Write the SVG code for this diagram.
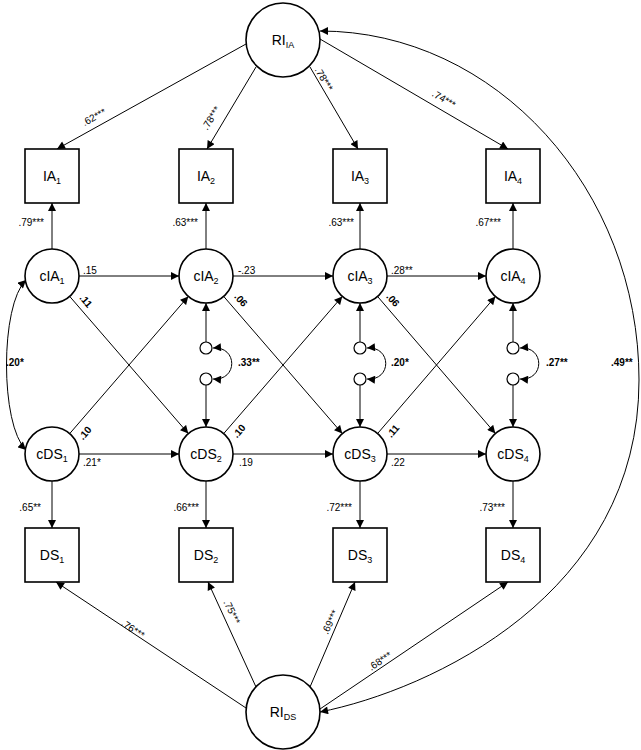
<svg xmlns="http://www.w3.org/2000/svg" width="641" height="750" viewBox="0 0 641 750">
<defs>
<marker id="ah" viewBox="0 0 10 10" refX="10" refY="5" markerWidth="9" markerHeight="8" markerUnits="userSpaceOnUse" orient="auto-start-reverse"><path d="M0,0 L10,5 L0,10 z" fill="#000"/></marker>
<style>
.node{fill:#fff;stroke:#000;stroke-width:1.6}
.small{fill:#fff;stroke:#000;stroke-width:1.2}
.lbl{font-family:"Liberation Sans",Arial,sans-serif;font-size:14px;fill:#000;text-anchor:middle}
.sub{font-size:9px}
.c{fill:none;stroke:#000;stroke-width:1}
.a{marker-end:url(#ah)}
.b{marker-start:url(#ah);marker-end:url(#ah)}
.n{font-family:"Liberation Sans",Arial,sans-serif;font-size:10px;fill:#000}
.bd{font-weight:bold}
</style>
</defs>
<rect width="641" height="750" fill="#fff"/>
<g id="connectors">
<path class="c a" d="M246 44 L57 149"/>
<path class="c a" d="M256 67 L207 149"/>
<path class="c a" d="M310 67 L358 149"/>
<path class="c a" d="M320 39 L508 149"/>
<path class="c a" d="M246 708 L56 582"/>
<path class="c a" d="M256 687 L208 582"/>
<path class="c a" d="M310 687 L355 582"/>
<path class="c a" d="M320 709 L508 582"/>
<path class="c b" d="M320 712 C430 690 639 595 639 380 C639 190 496 31 320 31"/>
<path class="c a" d="M52 249 L52 203"/>
<path class="c a" d="M206 249 L206 203"/>
<path class="c a" d="M360 249 L360 203"/>
<path class="c a" d="M513 249 L513 203"/>
<path class="c a" d="M52 481 L52 528"/>
<path class="c a" d="M206 481 L206 528"/>
<path class="c a" d="M360 481 L360 528"/>
<path class="c a" d="M513 481 L513 528"/>
<path class="c a" d="M79 276 L179 276"/>
<path class="c a" d="M233 276 L333 276"/>
<path class="c a" d="M387 276 L486 276"/>
<path class="c a" d="M79 454 L179 454"/>
<path class="c a" d="M233 454 L333 454"/>
<path class="c a" d="M387 454 L486 454"/>
<path class="c a" d="M69.7 296.4 L188.3 433.6"/>
<path class="c a" d="M69.7 433.6 L188.3 296.4"/>
<path class="c a" d="M223.7 296.4 L342.3 433.6"/>
<path class="c a" d="M223.7 433.6 L342.3 296.4"/>
<path class="c a" d="M377.6 296.5 L495.4 433.5"/>
<path class="c a" d="M377.6 433.5 L495.4 296.5"/>
<path class="c a" d="M206 342 L206 303"/>
<path class="c a" d="M360 342 L360 303"/>
<path class="c a" d="M513 342 L513 303"/>
<path class="c a" d="M206 385 L206 427"/>
<path class="c a" d="M360 385 L360 427"/>
<path class="c a" d="M513 385 L513 427"/>
<path class="c b" d="M213 348 C238 346 238 381 213 379"/>
<path class="c b" d="M367 348 C392 346 392 381 367 379"/>
<path class="c b" d="M520 348 C545 346 545 381 520 379"/>
<path class="c b" d="M26 280 C0 305 0 425 26 450"/>
</g>
<g id="RI_IA"><circle class="node" cx="283" cy="40" r="37"/><text class="lbl" x="283" y="45">RI<tspan class="sub" dy="3">IA</tspan></text></g>
<g id="RI_DS"><circle class="node" cx="283" cy="712" r="37"/><text class="lbl" x="283" y="717">RI<tspan class="sub" dy="3">DS</tspan></text></g>
<g id="IA1"><rect class="node" x="25" y="149" width="54" height="54"/><text class="lbl" x="52" y="181">IA<tspan class="sub" dy="3">1</tspan></text></g>
<g id="IA2"><rect class="node" x="179" y="149" width="54" height="54"/><text class="lbl" x="206" y="181">IA<tspan class="sub" dy="3">2</tspan></text></g>
<g id="IA3"><rect class="node" x="333" y="149" width="54" height="54"/><text class="lbl" x="360" y="181">IA<tspan class="sub" dy="3">3</tspan></text></g>
<g id="IA4"><rect class="node" x="486" y="149" width="54" height="54"/><text class="lbl" x="513" y="181">IA<tspan class="sub" dy="3">4</tspan></text></g>
<g id="cIA1"><circle class="node" cx="52" cy="276" r="27"/><text class="lbl" x="52" y="281">cIA<tspan class="sub" dy="3">1</tspan></text></g>
<g id="cIA2"><circle class="node" cx="206" cy="276" r="27"/><text class="lbl" x="206" y="281">cIA<tspan class="sub" dy="3">2</tspan></text></g>
<g id="cIA3"><circle class="node" cx="360" cy="276" r="27"/><text class="lbl" x="360" y="281">cIA<tspan class="sub" dy="3">3</tspan></text></g>
<g id="cIA4"><circle class="node" cx="513" cy="276" r="27"/><text class="lbl" x="513" y="281">cIA<tspan class="sub" dy="3">4</tspan></text></g>
<g id="e2a"><circle class="small" cx="206" cy="348" r="6"/></g>
<g id="e2b"><circle class="small" cx="206" cy="379" r="6"/></g>
<g id="e3a"><circle class="small" cx="360" cy="348" r="6"/></g>
<g id="e3b"><circle class="small" cx="360" cy="379" r="6"/></g>
<g id="e4a"><circle class="small" cx="513" cy="348" r="6"/></g>
<g id="e4b"><circle class="small" cx="513" cy="379" r="6"/></g>
<g id="cDS1"><circle class="node" cx="52" cy="454" r="27"/><text class="lbl" x="52" y="459">cDS<tspan class="sub" dy="3">1</tspan></text></g>
<g id="cDS2"><circle class="node" cx="206" cy="454" r="27"/><text class="lbl" x="206" y="459">cDS<tspan class="sub" dy="3">2</tspan></text></g>
<g id="cDS3"><circle class="node" cx="360" cy="454" r="27"/><text class="lbl" x="360" y="459">cDS<tspan class="sub" dy="3">3</tspan></text></g>
<g id="cDS4"><circle class="node" cx="513" cy="454" r="27"/><text class="lbl" x="513" y="459">cDS<tspan class="sub" dy="3">4</tspan></text></g>
<g id="DS1"><rect class="node" x="25" y="528" width="54" height="54"/><text class="lbl" x="52" y="560">DS<tspan class="sub" dy="3">1</tspan></text></g>
<g id="DS2"><rect class="node" x="179" y="528" width="54" height="54"/><text class="lbl" x="206" y="560">DS<tspan class="sub" dy="3">2</tspan></text></g>
<g id="DS3"><rect class="node" x="333" y="528" width="54" height="54"/><text class="lbl" x="360" y="560">DS<tspan class="sub" dy="3">3</tspan></text></g>
<g id="DS4"><rect class="node" x="486" y="528" width="54" height="54"/><text class="lbl" x="513" y="560">DS<tspan class="sub" dy="3">4</tspan></text></g>
<g id="labels">
<text class="n" text-anchor="middle" transform="translate(94,117) rotate(-29.4)" dy="3.5">.62***</text>
<text class="n" text-anchor="middle" transform="translate(211,118) rotate(-58.5)" dy="3.5">.78***</text>
<text class="n" text-anchor="middle" transform="translate(324,79) rotate(59)" dy="3.5">.78***</text>
<text class="n" text-anchor="middle" transform="translate(444,99) rotate(30.8)" dy="3.5">.74***</text>
<text class="n" text-anchor="middle" transform="translate(133,629) rotate(33.5)" dy="3.5">.76***</text>
<text class="n" text-anchor="middle" transform="translate(232,612) rotate(64.6)" dy="3.5">.75***</text>
<text class="n" text-anchor="middle" transform="translate(330,622) rotate(-64.6)" dy="3.5">.69***</text>
<text class="n" text-anchor="middle" transform="translate(380,661) rotate(-33.5)" dy="3.5">.68***</text>
<text class="n" text-anchor="end" x="44" y="226">.79***</text>
<text class="n" text-anchor="end" x="198" y="226">.63***</text>
<text class="n" text-anchor="end" x="354" y="226">.63***</text>
<text class="n" text-anchor="end" x="501" y="226">.67***</text>
<text class="n" text-anchor="end" x="41" y="511">.65**</text>
<text class="n" text-anchor="end" x="199" y="511">.66***</text>
<text class="n" text-anchor="end" x="352" y="511">.72***</text>
<text class="n" text-anchor="end" x="505" y="511">.73***</text>
<text class="n" x="83" y="274">.15</text>
<text class="n" x="238" y="274">-.23</text>
<text class="n" x="391" y="274">.28**</text>
<text class="n" x="83" y="466">.21*</text>
<text class="n" x="239" y="466">.19</text>
<text class="n" x="391" y="466">.22</text>
<text class="n bd" text-anchor="middle" transform="translate(86,301) rotate(49)" dy="3.5">.11</text>
<text class="n bd" text-anchor="middle" transform="translate(241,300) rotate(49)" dy="3.5">.06</text>
<text class="n bd" text-anchor="middle" transform="translate(393,300) rotate(49)" dy="3.5">.06</text>
<text class="n bd" text-anchor="middle" transform="translate(85,433) rotate(-49)" dy="3.5">.10</text>
<text class="n bd" text-anchor="middle" transform="translate(239,431) rotate(-49)" dy="3.5">.10</text>
<text class="n bd" text-anchor="middle" transform="translate(393,431) rotate(-49)" dy="3.5">.11</text>
<text class="n bd" x="6" y="366">.20*</text>
<text class="n bd" x="238" y="366">.33**</text>
<text class="n bd" x="391" y="366">.20*</text>
<text class="n bd" x="546" y="366">.27**</text>
<text class="n bd" x="611" y="366">.49**</text>
</g>
</svg>
